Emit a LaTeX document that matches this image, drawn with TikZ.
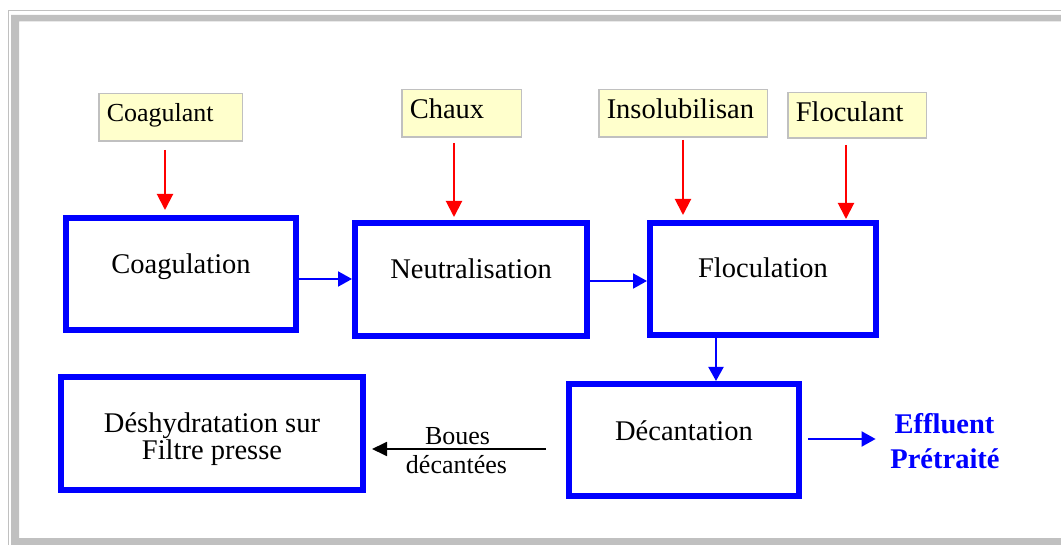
\documentclass[tikz,border=0pt]{standalone}
\usepackage{fontspec}
\setmainfont{Liberation Serif}
\usetikzlibrary{arrows.meta,calc}
\definecolor{framegray}{HTML}{C0C0C0}
\definecolor{ybg}{HTML}{FFFFCC}
\tikzset{
  inbox/.style={draw=framegray, fill=ybg, line width=1.5pt, anchor=north west,
    inner xsep=8pt, inner ysep=0pt, align=left},
  procbox/.style={draw=blue, line width=6pt, anchor=north west, inner sep=0pt},
  inlabel/.style={anchor=base, inner sep=0pt},
  rarrow/.style={red, line width=2pt, -{Triangle[length=16pt,width=16pt]}},
  barrow/.style={blue, line width=2pt, -{Triangle[length=14pt,width=15pt]}},
  karrow/.style={black, line width=1.8pt, -{Triangle[length=15pt,width=14pt]}},
  mainfont/.style={font=\fontsize{28.5}{34}\selectfont},
  smallfont/.style={font=\fontsize{26}{31}\selectfont},
  efffont/.style={font=\fontsize{28.5}{34}\selectfont\bfseries, text=blue},
}
\begin{document}
\begin{tikzpicture}[x=1pt, y=-1pt, mainfont]
\useasboundingbox (0,0) rectangle (1061,545);
\clip (0,0) rectangle (1061,545);
% frame
\draw[framegray, line width=1.5pt] (8.25,580) -- (8.25,10.75) -- (1100,10.75);
\fill[framegray, even odd rule] (11,15) rectangle (1100,580) (19,21.5) rectangle (1090,538);

% reagent boxes
\node[inbox, smallfont, text width=127.5pt, text height=28.25pt, text depth=19.25pt] (coagulant) at (98,93) {\mbox{Coagulant}};
\node[inbox, text width=103.5pt, text height=29.25pt, text depth=18.25pt] (chaux) at (401,89) {\mbox{Chaux}};
\node[inbox, text width=152.5pt, text height=29.25pt, text depth=18.25pt] (insol) at (598,89) {\mbox{Insolubilisan}};
\node[inbox, text width=122.5pt, text height=29.25pt, text depth=16.25pt] (flocu) at (787,92) {\mbox{Floculant}};

% process boxes
\node[procbox, minimum width=230pt, minimum height=112pt] (coag) at (63,215) {};
\node[procbox, minimum width=232pt, minimum height=113pt] (neut) at (352,220) {};
\node[procbox, minimum width=226pt, minimum height=112pt] (floc) at (647,220) {};
\node[procbox, minimum width=230pt, minimum height=112pt] (dec) at (566,381) {};
\node[procbox, minimum width=302pt, minimum height=113pt] (desh) at (58,374) {};

% process texts (baseline at box centre)
\node[inlabel] (coagt) at (coag.center) {Coagulation};
\node[inlabel] (neutt) at ($(neut.center)+(0,-0.5)$) {Neutralisation};
\node[inlabel] (floct) at ($(floc.center)+(0,-1)$) {Floculation};
\node[inlabel] (dect) at ($(dec.center)+(0,1)$) {Décantation};
\node[inlabel] (desht) at ($(desh.center)+(0,-1)$) {Déshydratation sur};
\node[inlabel] (desht2) at ($(desh.center)+(0,26)$) {Filtre presse};

% effluent text
\node[efffont, anchor=base] (eff) at (944.5,433) {Effluent};
\node[efffont, anchor=base] (effb) at (945,468) {Prétraité};

% red reagent arrows
\draw[rarrow] ($(coagulant.south)+(-5.5,8)$) -- ($(coag.north)+(-16,-5)$);
\draw[rarrow] ($(chaux.south)+(-7.5,5)$) -- ($(neut.north)+(-17,-3)$);
\draw[rarrow] ($(insol.south)+(0,2)$) -- ($(floc.north)+(-80,-5)$);
\draw[rarrow] ($(flocu.south)+(-11,6)$) -- ($(floc.north)+(83,-1)$);

% blue process arrows
\draw[barrow] ($(coag.east)+(0,5)$) -- ($(neut.west)+(0,-0.5)$);
\draw[barrow] ($(neut.east)+(0,1.5)$) -- ($(floc.west)+(0,2)$);
\draw[barrow] ($(floc.south)+(-47,0)$) -- ($(dec.north)+(32,0)$);
\draw[barrow] ($(dec.east)+(6,-1)$) -- ($(eff.west |- dec.east)+(-15.5,-1)$);

% sludge arrow
\coordinate (bstart) at ($(dec.west)+(-20,9)$);
\draw[karrow] (bstart) -- node[smallfont, anchor=base, yshift=5pt, xshift=-1.5pt] (boues) {Boues}
  node[smallfont, anchor=base, yshift=-24pt, xshift=-2.5pt] (boues2) {décantées}
  ($(bstart -| desh.east)+(6,0)$);
\end{tikzpicture}
\end{document}
